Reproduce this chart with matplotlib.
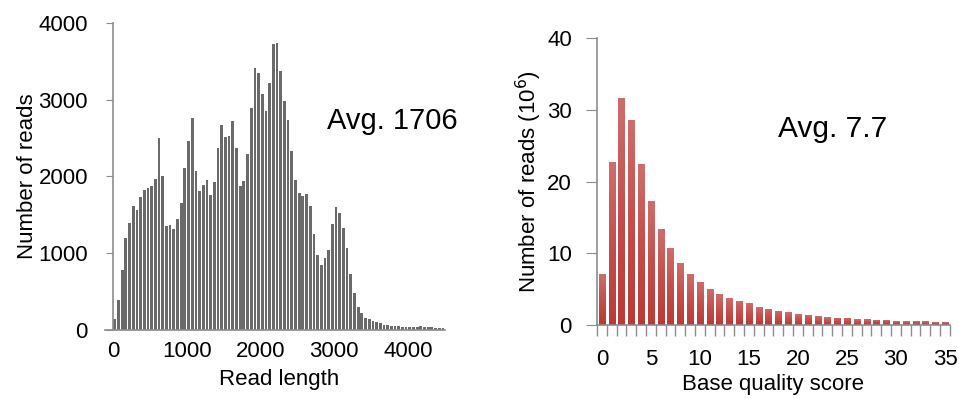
import numpy as np
import matplotlib.pyplot as plt

plt.rcParams['font.family'] = ['Liberation Sans', 'DejaVu Sans']

# read length histogram, bins of 50 bp starting at 0
bin_width = 50
length_counts = [139, 391, 783, 1196, 1396, 1617, 1565, 1735, 1826, 1848,
                 1870, 1961, 2500, 2004, 1357, 1370, 1317, 1448, 1657, 2113,
                 2465, 2765, 2074, 1813, 1891, 1957, 1765, 1930, 2374, 2674,
                 2517, 2526, 2722, 2374, 1870, 1943, 2296, 2896, 3413, 3343,
                 3074, 2857, 3222, 3726, 3739, 3374, 2978, 2730, 2335, 1952,
                 1787, 1752, 1774, 1617, 1252, 974, 848, 939, 1043, 1387,
                 1604, 1526, 1330, 1070, 735, 483, 304, 226, 161, 143,
                 117, 100, 91, 70, 65, 57, 52, 48, 43, 39,
                 39, 39, 43, 48, 39, 35, 35, 30, 30, 30]

# base quality score distribution (millions of reads)
quality_scores = list(range(36))
quality_reads = [7.1, 22.7, 31.7, 28.6, 22.5, 17.3, 13.4, 10.7, 8.6, 7.1,
                 6.0, 5.0, 4.3, 3.8, 3.4, 3.0, 2.5, 2.3, 2.0, 1.8,
                 1.5, 1.4, 1.2, 1.1, 1.0, 1.0, 0.8, 0.8, 0.7, 0.7,
                 0.55, 0.55, 0.55, 0.55, 0.4, 0.4]

axis_col = '#8c8c8c'
fs = 16

fig = plt.figure(figsize=(9.59, 3.98), dpi=100)

# ---- left panel: read length ----
ax1 = fig.add_axes([0.1178, 0.1709, 0.346, 0.7714])
centers = np.arange(len(length_counts)) * bin_width + bin_width / 2
ax1.bar(centers, length_counts, width=bin_width * 0.75, color='#6a6a6a',
        edgecolor='none')
ax1.set_xlim(0, 4500)
ax1.set_ylim(0, 4000)
ax1.set_yticks([0, 1000, 2000, 3000, 4000])
ax1.set_xticks([0, 1000, 2000, 3000, 4000])
ax1.tick_params(axis='y', length=5, color=axis_col, labelsize=fs, pad=13)
ax1.tick_params(axis='x', length=0, labelsize=fs, pad=8)
for s in ['top', 'right']:
    ax1.spines[s].set_visible(False)
for s in ['left', 'bottom']:
    ax1.spines[s].set_color(axis_col)
    ax1.spines[s].set_linewidth(1.2)
ax1.spines['bottom'].set_bounds(-110, 4500)
ax1.spines['bottom'].set_clip_on(False)
ax1.set_xlabel('Read length', fontsize=fs, labelpad=5)
ax1.set_ylabel('Number of reads', fontsize=fs, labelpad=0)
ax1.text(2900, 2720, 'Avg. 1706', fontsize=21, va='center', ha='left')

# ---- right panel: base quality ----
ax2 = fig.add_axes([0.6225, 0.1834, 0.368, 0.721])
bars = ax2.bar(quality_scores, quality_reads, width=0.62, color='#c44f4c',
               edgecolor='none')
grad = np.linspace(0, 1, 100).reshape(-1, 1)
cmap = plt.matplotlib.colors.LinearSegmentedColormap.from_list(
    'redgrad', ['#ba3936', '#c44f4c', '#ce6e6c'])
for b in bars:
    x0, y0 = b.get_x(), b.get_y()
    w, h = b.get_width(), b.get_height()
    im = ax2.imshow(grad, cmap=cmap, origin='lower', aspect='auto',
                    extent=[x0, x0 + w, y0, y0 + h], zorder=2)
    im.set_clip_path(b)
ax2.set_xlim(-0.5, 35.5)
ax2.set_ylim(0, 40)
ax2.set_yticks([0, 10, 20, 30, 40])
ax2.set_xticks([0, 5, 10, 15, 20, 25, 30, 35])
ax2.set_xticks(np.arange(-0.5, 36, 1), minor=True)
ax2.tick_params(axis='y', length=8, color=axis_col, labelsize=fs, pad=10)
ax2.tick_params(axis='x', which='major', length=0, labelsize=fs, pad=17)
ax2.tick_params(axis='x', which='minor', length=8, color=axis_col, width=1)
for s in ['top', 'right']:
    ax2.spines[s].set_visible(False)
for s in ['left', 'bottom']:
    ax2.spines[s].set_color(axis_col)
    ax2.spines[s].set_linewidth(1.2)
ax2.set_xlabel('Base quality score', fontsize=fs, labelpad=3)
ax2.set_ylabel('Number of reads (10$^6$)', fontsize=fs, labelpad=2)
ax2.text(18.0, 27.3, 'Avg. 7.7', fontsize=21.5, va='center', ha='left')

fig.savefig('out.png', dpi=100)
